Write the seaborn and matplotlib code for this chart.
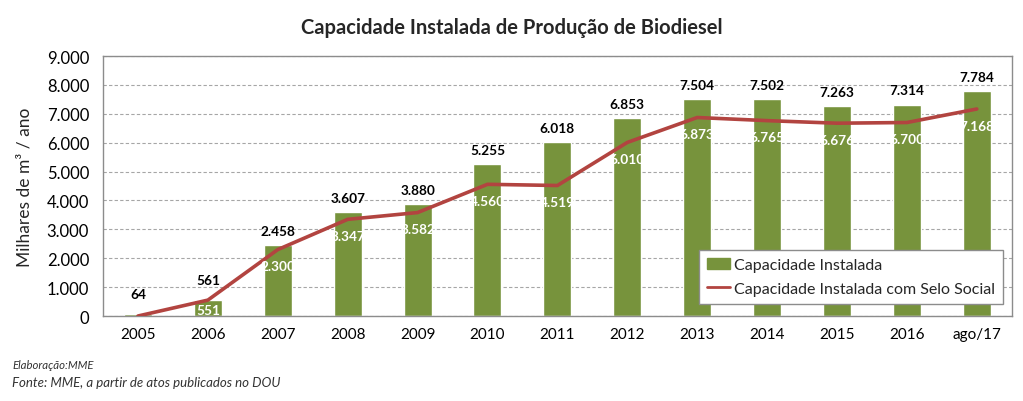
import matplotlib
matplotlib.use("Agg")
import matplotlib.pyplot as plt
import seaborn as sns
import pandas as pd
from matplotlib.ticker import FuncFormatter, FixedLocator
from matplotlib.patches import Patch
from matplotlib.lines import Line2D

anos = ["2005", "2006", "2007", "2008", "2009", "2010", "2011", "2012", "2013", "2014", "2015", "2016", "ago/17"]
capacidade = [64, 561, 2458, 3607, 3880, 5255, 6018, 6853, 7504, 7502, 7263, 7314, 7784]
selo_social = [0, 551, 2300, 3347, 3582, 4560, 4519, 6010, 6873, 6765, 6676, 6700, 7168]
selo_labels = [None, 551, 2300, 3347, 3582, 4560, 4519, 6010, 6873, 6765, 6676, 6700, 7168]

sns.set_theme(style="white")
plt.rcParams["font.family"] = ["Lato", "DejaVu Sans"]

BAR = "#77933C"
LINE = "#B24440"

def fmt(v):
    return f"{int(v):,}".replace(",", ".")

df = pd.DataFrame({"ano": anos, "cap": capacidade, "selo": selo_social})

fig = plt.figure(figsize=(10.23, 4.02), dpi=100)
ax = fig.add_axes([0.1007, 0.2114, 0.8883, 0.6466])

sns.barplot(data=df, x="ano", y="cap", color=BAR, width=0.4, ax=ax, saturation=1, zorder=2)
sns.pointplot(data=df, x="ano", y="selo", color=LINE, marker="", linewidth=2.6, ax=ax, zorder=3)
for l in ax.lines:
    l.set_solid_joinstyle("round")
    l.set_solid_capstyle("round")

ax.set_xlim(-0.5, len(anos) - 0.5)
ax.set_ylim(0, 9000)
ax.yaxis.set_major_locator(FixedLocator(range(0, 9001, 1000)))
ax.yaxis.set_major_formatter(FuncFormatter(lambda v, p: fmt(v)))
ax.grid(axis="y", linestyle=(0, (3, 2)), color="#A6A6A6", linewidth=0.8, zorder=0)
ax.set_axisbelow(True)

for s in ax.spines.values():
    s.set_color("#8C8C8C")
    s.set_linewidth(1.0)

ax.tick_params(axis="x", which="major", length=0, labelsize=11, pad=8, colors="black")
ax.set_xticks([i + 0.5 for i in range(len(anos) - 1)], minor=True)
ax.tick_params(axis="x", which="minor", length=5, color="#8C8C8C", width=1, direction="out")
ax.tick_params(axis="y", length=0, labelsize=12, pad=10, colors="black")
ax.set_xlabel("")
ax.set_ylabel("Milhares de m³ / ano", fontsize=12.5, labelpad=10)

for i, v in enumerate(capacidade):
    up = 6 if v > 1000 else 10
    ax.annotate(fmt(v), (i, v), xytext=(0, up), textcoords="offset points",
                ha="center", va="bottom", fontsize=9.8, fontweight="bold", color="black", zorder=5)
for i, v in enumerate(selo_labels):
    if v is None:
        continue
    off = -12 if v > 1000 else -7
    ax.annotate(fmt(v), (i, v), xytext=(0, off), textcoords="offset points",
                ha="center", va="center", fontsize=9.8, fontweight="bold", color="white", zorder=5)

fig.text(0.5, 0.93, "Capacidade Instalada de Produção de Biodiesel", ha="center", va="center",
         fontsize=14.5, fontweight="bold")

handles = [Patch(facecolor=BAR, edgecolor=BAR), Line2D([0], [0], color=LINE, linewidth=2)]
leg = ax.legend(handles, ["Capacidade Instalada", "Capacidade Instalada com Selo Social"],
                loc="lower right", bbox_to_anchor=(0.99, 0.046), fontsize=11.5, frameon=True,
                fancybox=False, framealpha=1, edgecolor="#8C8C8C", handlelength=1.5,
                handletextpad=0.2, borderpad=0.5, labelspacing=0.6, borderaxespad=0)
leg.set_zorder(10)

fig.text(0.012, 0.092, "Elaboração:MME", fontsize=8.2, style="italic", color="#333333", va="center")
fig.text(0.012, 0.047, "Fonte: MME, a partir de atos publicados no DOU", fontsize=9.5, style="italic",
         color="#333333", va="center")

fig.savefig("out.png", dpi=100, facecolor="white")
